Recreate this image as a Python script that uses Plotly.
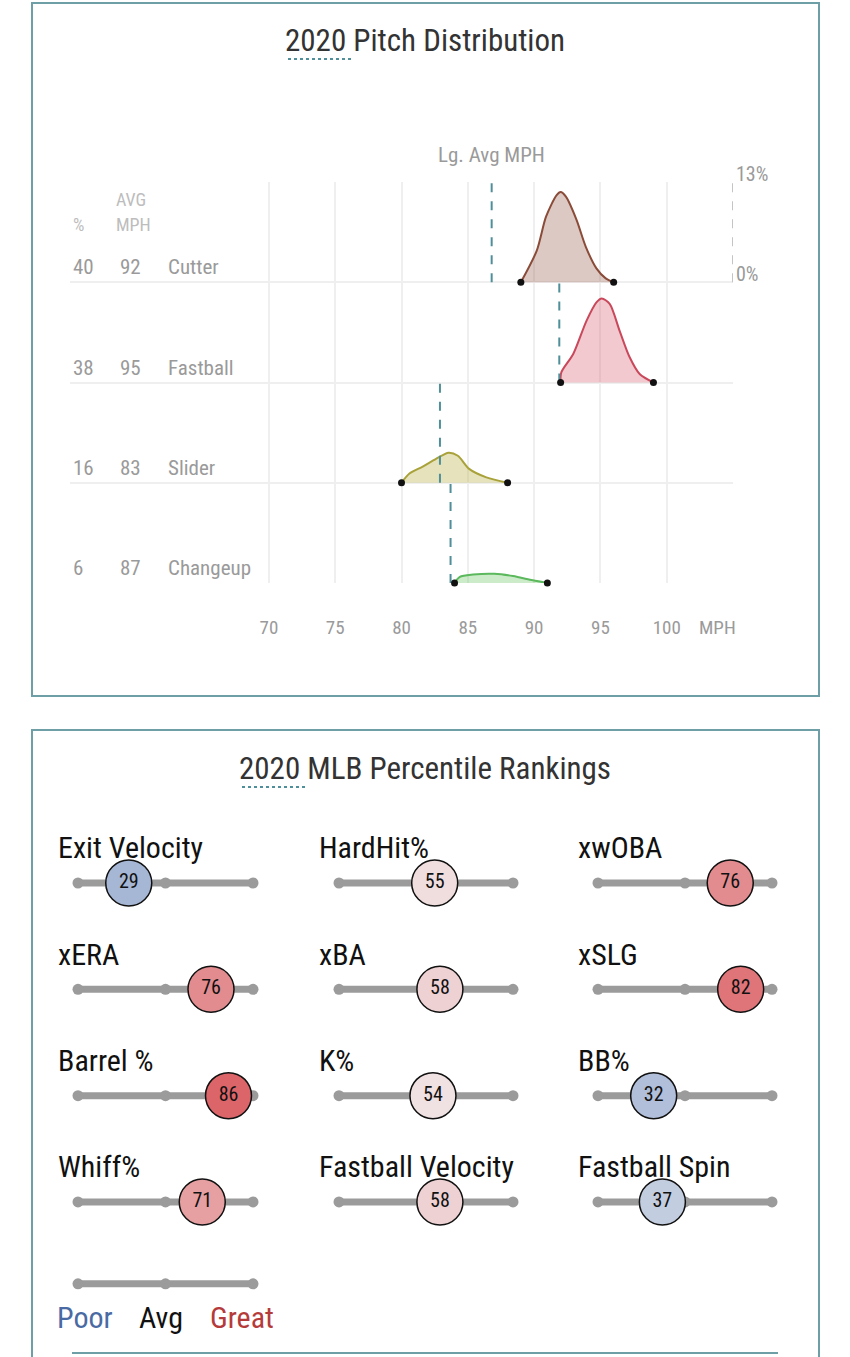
import plotly.graph_objects as go

# ---------------- data ----------------
pitch_names = ["Cutter", "Fastball", "Slider", "Changeup"]
pitch_pct = [40, 38, 16, 6]
pitch_avg_mph = [92, 95, 83, 87]
lg_avg_mph = [86.8, 91.9, 82.9, 83.7]

cutter_mph = [89.0, 90.2, 90.9, 91.7, 92.0, 92.4, 93.2, 93.9, 94.7, 95.4, 96.0]
cutter_dens = [0, 4.1, 8.5, 11.3, 11.7, 11.1, 8.1, 4.6, 1.8, 0.5, 0]
fastball_mph = [92.0, 92.05, 92.95, 93.95, 94.7, 95.1, 95.7, 96.45, 97.2, 97.96, 99.0]
fastball_dens = [0, 1.3, 3.7, 8.0, 10.4, 10.9, 10.2, 6.7, 3.3, 1.1, 0]
slider_mph = [80.0, 80.6, 81.6, 82.6, 83.55, 84.25, 85.1, 86.4, 88.0]
slider_dens = [0, 1.2, 2.1, 3.1, 3.9, 3.5, 1.8, 0.7, 0]
changeup_mph = [84.0, 84.4, 85.4, 87.0, 88.4, 89.9, 91.0]
changeup_dens = [0, 0.8, 1.1, 1.2, 0.9, 0.35, 0]

mph_ticks = [70, 75, 80, 85, 90, 95, 100]

metrics = ["Exit Velocity", "HardHit%", "xwOBA",
           "xERA", "xBA", "xSLG",
           "Barrel %", "K%", "BB%",
           "Whiff%", "Fastball Velocity", "Fastball Spin"]
percentiles = [29, 55, 76, 76, 58, 82, 86, 54, 32, 71, 58, 37]
legend_labels = ["Poor", "Avg", "Great"]
legend_pos = [0, 50, 100]

# ---------------- styling ----------------
W, H = 850, 1357
FONT = "Roboto Condensed, Liberation Sans Narrow, Roboto, sans-serif"
BORDER = "#6f9fa6"
TEAL = "#4f8f99"
GRAY_TXT = "#9a9a9a"
ROW_H = 13  # percent-units per row
ROW_PX = 106.33

line_cols = ["#8a4b38", "#c9485b", "#a9a23a", "#5cb85c"]
fill_cols = ["rgba(138,75,56,0.30)", "rgba(214,90,110,0.33)",
             "rgba(190,182,80,0.38)", "rgba(110,200,100,0.35)"]


def px(x):
    return x / W


def py(y):
    return 1 - y / H


fig = go.Figure()

# ---------------- pitch distribution ----------------
dens_x = [cutter_mph, fastball_mph, slider_mph, changeup_mph]
dens_y = [cutter_dens, fastball_dens, slider_dens, changeup_dens]
n = len(pitch_names)
for i in range(n):
    base = (n - 1 - i) * ROW_H
    xs = dens_x[i]
    ys = [base + d for d in dens_y[i]]
    fig.add_trace(go.Scatter(x=xs, y=ys, mode="lines", fill="toself",
                             fillcolor=fill_cols[i],
                             line=dict(color=line_cols[i], width=2, shape="spline", smoothing=0.8),
                             hoverinfo="skip", showlegend=False, xaxis="x", yaxis="y"))
    fig.add_trace(go.Scatter(x=[lg_avg_mph[i], lg_avg_mph[i]], y=[base, base + ROW_H],
                             mode="lines", line=dict(color=TEAL, width=2, dash="dash"),
                             hoverinfo="skip", showlegend=False, xaxis="x", yaxis="y"))
    fig.add_trace(go.Scatter(x=[xs[0], xs[-1]], y=[base, base], mode="markers",
                             marker=dict(color="#111", size=7), cliponaxis=False,
                             hoverinfo="skip", showlegend=False, xaxis="x", yaxis="y"))
    # left-hand labels
    for txt, xl in [(str(pitch_pct[i]), 71), (str(pitch_avg_mph[i]), 118), (pitch_names[i], 166)]:
        fig.add_annotation(x=px(xl), xref="paper", y=base, yref="y", yshift=15,
                           text=txt, showarrow=False, xanchor="left", yanchor="middle",
                           font=dict(family=FONT, size=21, color=GRAY_TXT))

# scale bar (0% to 13%)
top_base = (n - 1) * ROW_H
fig.add_trace(go.Scatter(x=[105, 105], y=[top_base, top_base + ROW_H], mode="lines",
                         line=dict(color="#c4c4c4", width=2, dash="dash"), cliponaxis=False,
                         hoverinfo="skip", showlegend=False, xaxis="x", yaxis="y"))
fig.add_annotation(x=105, y=top_base + ROW_H, xref="x", yref="y", text="13%", showarrow=False,
                   xanchor="left", yanchor="middle", xshift=1, yshift=8,
                   font=dict(family=FONT, size=20, color=GRAY_TXT))
fig.add_annotation(x=105, y=top_base, xref="x", yref="y", text="0%", showarrow=False,
                   xanchor="left", yanchor="middle", xshift=1, yshift=8,
                   font=dict(family=FONT, size=20, color=GRAY_TXT))
fig.add_annotation(x=lg_avg_mph[0], y=top_base + ROW_H, xref="x", yref="y", text="Lg. Avg MPH",
                   showarrow=False, xanchor="center", yanchor="middle", yshift=27,
                   font=dict(family=FONT, size=21, color=GRAY_TXT))
fig.add_annotation(x=px(697), y=py(627), xref="paper", yref="paper", text="MPH", showarrow=False,
                   xanchor="left", yanchor="middle",
                   font=dict(family=FONT, size=19, color=GRAY_TXT))

# headers
fig.add_annotation(x=px(71), y=py(224), xref="paper", yref="paper", text="%", showarrow=False,
                   xanchor="left", yanchor="middle", font=dict(family=FONT, size=18, color="#bdbdbd"))
fig.add_annotation(x=px(114), y=py(200), xref="paper", yref="paper", text="AVG", showarrow=False,
                   xanchor="left", yanchor="middle", font=dict(family=FONT, size=18, color="#bdbdbd"))
fig.add_annotation(x=px(114), y=py(224), xref="paper", yref="paper", text="MPH", showarrow=False,
                   xanchor="left", yanchor="middle", font=dict(family=FONT, size=18, color="#bdbdbd"))

# titles
fig.add_annotation(x=0.5, y=py(40), xref="paper", yref="paper", text="2020 Pitch Distribution",
                   showarrow=False, xanchor="center", yanchor="middle",
                   font=dict(family=FONT, size=31, color="#333"))
fig.add_annotation(x=0.5, y=py(768), xref="paper", yref="paper", text="2020 MLB Percentile Rankings",
                   showarrow=False, xanchor="center", yanchor="middle",
                   font=dict(family=FONT, size=31, color="#333"))

# ---------------- percentile rankings ----------------
col_axes = ["x2", "x3", "x4"]
for k, (m, p) in enumerate(zip(metrics, percentiles)):
    row, col = divmod(k, 3)
    xa = col_axes[col]
    fig.add_trace(go.Scatter(x=[0, 100], y=[row, row], mode="lines",
                             line=dict(color="#9b9b9b", width=7), cliponaxis=False,
                             hoverinfo="skip", showlegend=False, xaxis=xa, yaxis="y2"))
    fig.add_trace(go.Scatter(x=legend_pos, y=[row] * 3, mode="markers",
                             marker=dict(color="#9b9b9b", size=11), cliponaxis=False,
                             hoverinfo="skip", showlegend=False, xaxis=xa, yaxis="y2"))
    fig.add_annotation(x=0, y=row, xref=xa, yref="y2", text=m, showarrow=False,
                       xanchor="left", yanchor="middle", xshift=-22, yshift=35,
                       font=dict(family=FONT, size=30, color="#111"))

rows = [divmod(k, 3)[0] for k in range(len(metrics))]
cols = [divmod(k, 3)[1] for k in range(len(metrics))]
for c in range(3):
    xs = [percentiles[k] for k in range(len(metrics)) if cols[k] == c]
    ys = [rows[k] for k in range(len(metrics)) if cols[k] == c]
    fig.add_trace(go.Scatter(x=xs, y=ys, mode="markers+text", text=[str(v) for v in xs],
                             textposition="middle center",
                             textfont=dict(family=FONT, size=20, color="#111"),
                             marker=dict(size=46, color=xs, cmin=0, cmax=100,
                                         colorscale=[[0, "#3b66b0"], [0.5, "#f3f1f1"], [1, "#d32f35"]],
                                         line=dict(color="#111", width=1.5)),
                             hoverinfo="skip", showlegend=False, cliponaxis=False,
                             xaxis=col_axes[c], yaxis="y2"))

# legend
leg_row = 3.77
fig.add_trace(go.Scatter(x=[0, 100], y=[leg_row, leg_row], mode="lines",
                         line=dict(color="#9b9b9b", width=7), cliponaxis=False,
                         hoverinfo="skip", showlegend=False, xaxis="x2", yaxis="y2"))
fig.add_trace(go.Scatter(x=legend_pos, y=[leg_row] * 3, mode="markers",
                         marker=dict(color="#9b9b9b", size=11), cliponaxis=False,
                         hoverinfo="skip", showlegend=False, xaxis="x2", yaxis="y2"))
for lab, pos, col, sh in zip(legend_labels, legend_pos, ["#4a6aa3", "#111", "#b53b3b"], [7, -5, -11]):
    fig.add_annotation(x=pos, y=leg_row, xref="x2", yref="y2", text=lab, showarrow=False,
                       xanchor="center", yanchor="middle",
                       xshift=sh, yshift=-34, font=dict(family=FONT, size=30, color=col))

# ---------------- frames ----------------
shapes = [
    dict(type="rect", xref="paper", yref="paper", x0=px(32), x1=px(819), y0=py(696), y1=py(3),
         line=dict(color=BORDER, width=2)),
    dict(type="path", xref="paper", yref="paper",
         path=f"M {px(32)} {py(1360)} L {px(32)} {py(730)} L {px(819)} {py(730)} L {px(819)} {py(1360)}",
         line=dict(color=BORDER, width=2)),
    dict(type="line", xref="paper", yref="paper", x0=px(72), x1=px(778), y0=py(1353), y1=py(1353),
         line=dict(color=BORDER, width=2)),
    dict(type="line", xref="paper", yref="paper", x0=px(288), x1=px(354), y0=py(59), y1=py(59),
         line=dict(color=TEAL, width=2, dash="dot")),
    dict(type="line", xref="paper", yref="paper", x0=px(242), x1=px(308), y0=py(787), y1=py(787),
         line=dict(color=TEAL, width=2, dash="dot")),
]

fig.update_layout(
    width=W, height=H, margin=dict(l=0, r=0, t=0, b=0),
    paper_bgcolor="white", plot_bgcolor="white", showlegend=False,
    shapes=shapes,
    xaxis=dict(domain=[px(70), px(733)], range=[55, 105], tickvals=mph_ticks,
               showgrid=True, gridcolor="#efefef", gridwidth=2, zeroline=False, showline=False,
               ticks="", ticklabelstandoff=31,
               tickfont=dict(family=FONT, size=19, color=GRAY_TXT)),
    yaxis=dict(domain=[py(583), py(182)], range=[0, 4 * ROW_H],
               tickvals=[0, ROW_H, 2 * ROW_H, 3 * ROW_H], showticklabels=False,
               showgrid=True, gridcolor="#efefef", gridwidth=2, zeroline=False, showline=False),
    xaxis2=dict(domain=[px(78), px(253)], range=[0, 100], visible=False, anchor="y2"),
    xaxis3=dict(domain=[px(339), px(513)], range=[0, 100], visible=False, anchor="y2"),
    xaxis4=dict(domain=[px(598), px(772)], range=[0, 100], visible=False, anchor="y2"),
    yaxis2=dict(domain=[py(883 + 3.9 * ROW_PX), py(883 - 0.5 * ROW_PX)], range=[3.9, -0.5],
                visible=False, anchor="x2"),
)

fig.write_html("out.html", config={"displayModeBar": False},
               post_script="document.body.style.margin='0';document.body.style.overflow='hidden';")
